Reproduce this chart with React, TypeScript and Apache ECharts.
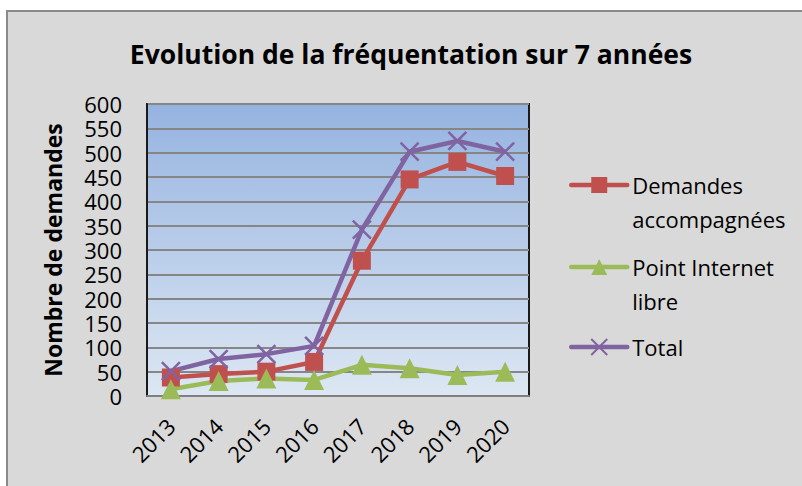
import React, { useEffect, useRef } from 'react';
import * as echarts from 'echarts';

const titleText = 'Evolution de la fréquentation sur 7 années';
const yAxisName = 'Nombre de demandes';
const years = ['2013', '2014', '2015', '2016', '2017', '2018', '2019', '2020'];
const demandes = [38, 45, 50, 70, 278, 445, 481, 452];
const internet = [14, 31, 36, 33, 64, 57, 43, 50];
const total = [51, 76, 86, 103, 342, 502, 524, 502];
const seriesNames = ['Demandes accompagnées', 'Point Internet libre', 'Total'];
const legendLabels = ['\nDemandes\naccompagnées', '\nPoint Internet\nlibre', 'Total'];

export default function App() {
  const ref = useRef<HTMLDivElement>(null);
  useEffect(() => {
    const chart = echarts.init(ref.current!, null, { renderer: 'svg' });
    const font = '"Open Sans", sans-serif';
    const red = '#c0504d';
    const green = '#9bbb59';
    const purple = '#8064a2';
    const LH = 34;
    const legendBase = {
      orient: 'vertical',
      left: 569,
      padding: 0,
      itemWidth: 56,
      itemHeight: 20,
      lineStyle: { width: 4.5, cap: 'round' },
      textStyle: { fontFamily: font, fontSize: 22, color: '#000', lineHeight: LH },
    };
    chart.setOption({
      animation: false,
      backgroundColor: '#ffffff',
      textStyle: { fontFamily: font },
      graphic: [
        {
          type: 'rect',
          z: -100,
          shape: { x: 7, y: 11, width: 820, height: 500 },
          style: { fill: '#d9d9d9', stroke: '#8a8a8a', lineWidth: 2 },
        },
        {
          type: 'text',
          x: 411,
          y: 54,
          style: {
            text: titleText,
            align: 'center',
            verticalAlign: 'middle',
            fontFamily: font,
            fontSize: 26.5,
            fontWeight: 'bold',
            fill: '#000',
          },
        },
      ],
      grid: {
        left: 147,
        top: 104,
        width: 382,
        height: 292,
        show: true,
        borderColor: '#1a1a1a',
        borderWidth: 2,
        backgroundColor: new echarts.graphic.LinearGradient(0, 0, 0, 1, [
          { offset: 0, color: '#95b3e0' },
          { offset: 1, color: '#dde7f3' },
        ]),
      },
      legend: [
        {
          ...legendBase,
          top: 185 - (3 * LH) / 2,
          data: [seriesNames[0]],
          formatter: () => legendLabels[0],
        },
        {
          ...legendBase,
          top: 267 - (3 * LH) / 2,
          data: [seriesNames[1]],
          formatter: () => legendLabels[1],
        },
        {
          ...legendBase,
          top: 347 - LH / 2,
          data: [seriesNames[2]],
          formatter: () => legendLabels[2],
        },
      ],
      xAxis: {
        type: 'category',
        data: years,
        boundaryGap: true,
        axisLine: { show: true, lineStyle: { color: '#7f7f7f', width: 2 } },
        axisTick: { show: false },
        axisLabel: {
          rotate: 45,
          margin: 26,
          fontFamily: font,
          fontSize: 22,
          lineHeight: 22,
          color: '#000',
          interval: 0,
        },
      },
      yAxis: {
        type: 'value',
        min: 0,
        max: 600,
        interval: 50,
        name: yAxisName,
        nameLocation: 'middle',
        nameGap: 83,
        nameTextStyle: { fontFamily: font, fontSize: 23, fontWeight: 'bold', color: '#000' },
        axisLine: { show: true, lineStyle: { color: '#1a1a1a', width: 2 } },
        axisTick: { show: false },
        axisLabel: { margin: 25, fontFamily: font, fontSize: 22, lineHeight: 20, color: '#000' },
        splitLine: { show: true, lineStyle: { color: '#868686', width: 2 } },
      },
      series: [
        {
          name: seriesNames[0],
          type: 'line',
          data: demandes,
          symbol: 'rect',
          symbolSize: 18,
          lineStyle: { color: red, width: 4.5 },
          itemStyle: { color: red },
        },
        {
          name: seriesNames[1],
          type: 'line',
          data: internet,
          symbol: 'triangle',
          symbolSize: 20,
          lineStyle: { color: green, width: 4.5 },
          itemStyle: { color: green },
        },
        {
          name: seriesNames[2],
          type: 'line',
          data: total,
          symbol: 'path://M0,0L10,10M10,0L0,10',
          symbolSize: 18,
          lineStyle: { color: purple, width: 4.5 },
          itemStyle: { color: 'none', borderColor: purple, borderWidth: 2.5 },
        },
      ],
    });
    return () => chart.dispose();
  }, []);
  return (
    <div
      ref={ref}
      style={{ position: 'fixed', left: 0, top: 0, width: 802, height: 486 }}
    />
  );
}
